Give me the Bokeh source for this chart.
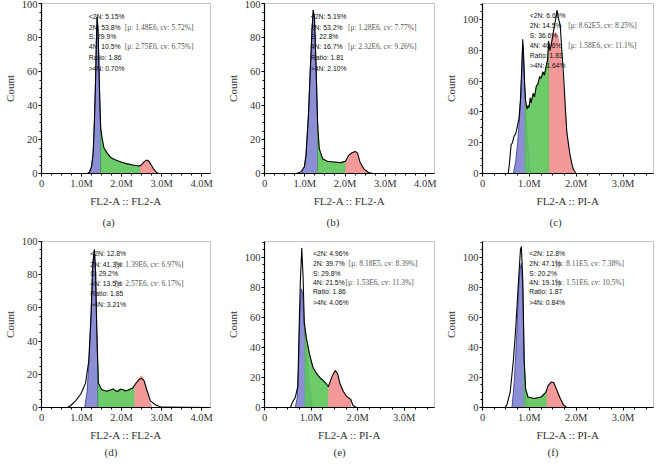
import numpy as np
from bokeh.plotting import figure
from bokeh.layouts import row, column
from bokeh.models import Range1d, FixedTicker, Title, ColumnDataSource, CustomJSTickFormatter
from bokeh.core.properties import value
from bokeh.embed import file_html
from bokeh.resources import INLINE

# ---------------- data (x in millions, y = count) ----------------
A_X = [0.0, 1.15, 1.20, 1.25, 1.29, 1.32, 1.35, 1.37, 1.39, 1.41, 1.43, 1.45, 1.47, 1.48, 1.52, 1.56, 1.64,
       1.72, 1.82, 1.92, 2.02, 2.12, 2.28, 2.44, 2.50, 2.56, 2.62, 2.68, 2.74, 2.80, 2.86, 2.92, 4.22]
A_Y = [0, 0, 1, 4, 12, 30, 55, 78, 92, 85, 68, 48, 32, 26, 20, 15, 12,
       9.6, 8.2, 7.3, 6.5, 5.8, 5.0, 4.4, 5.2, 6.8, 7.9, 7.3, 5.0, 2.6, 0.9, 0, 0]
A_G1 = (1.19, 1.48)
A_S = (1.48, 2.46)
A_G2 = (2.46, 2.90)

B_X = [0.0, 0.79, 0.91, 0.99, 1.03, 1.09, 1.14, 1.18, 1.21, 1.24, 1.28, 1.32, 1.36, 1.44, 1.56, 1.72,
       1.89, 2.01, 2.09, 2.17, 2.25, 2.31, 2.37, 2.46, 2.58, 2.70, 4.22]
B_Y = [0, 0, 1, 4, 10.7, 34, 63, 84.5, 96, 92, 63, 28, 14.6, 8.7, 7.2, 6.8,
       6.4, 7.2, 10.7, 12.2, 13, 12, 6.8, 2.9, 0.6, 0, 0]
B_G1 = (0.93, 1.32)
B_S = (1.32, 2.01)
B_G2 = (2.01, 2.62)

C_X = [0.0, 0.55, 0.57, 0.61, 0.64, 0.67, 0.71, 0.75, 0.78, 0.81, 0.83, 0.85, 0.86, 0.88, 0.90, 0.92, 0.95,
       0.97, 0.99, 1.02, 1.04, 1.08, 1.11, 1.15, 1.18, 1.22, 1.25, 1.29, 1.32, 1.36, 1.39, 1.41, 1.44, 1.47,
       1.50, 1.53, 1.56, 1.59, 1.62, 1.66, 1.69, 1.73, 1.77, 1.80, 1.84, 1.87, 1.91, 1.94, 2.00, 3.65]
C_Y = [0, 0, 5, 18.6, 20, 24, 26, 31.5, 36, 48, 62, 80, 87, 75, 58, 47, 42,
       44, 43, 49, 46, 52, 50, 57, 58, 63, 62, 66, 64, 70, 74, 86, 80, 84,
       90, 95, 100, 106, 101, 96, 81, 64, 42, 27, 18, 12, 6, 2.6, 0, 0]
C_G1_X = [0.66, 0.71, 0.75, 0.78, 0.81, 0.83, 0.85, 0.86, 0.88, 0.90, 0.93, 0.96, 1.00, 1.03]
C_G1_Y = [0, 8, 20, 32, 46, 60, 76, 83, 72, 56, 38, 20, 6, 0]
C_S = (0.91, 1.42)
C_G2_X = [1.42, 1.42, 1.48, 1.55, 1.62, 1.68, 1.74, 1.80, 1.86, 1.92, 1.97]
C_G2_Y = [0, 80, 88, 92, 90, 78, 55, 30, 13, 4, 0]

D_X = [0.0, 0.65, 0.73, 0.85, 0.98, 1.10, 1.18, 1.24, 1.28, 1.32, 1.35, 1.38, 1.42, 1.50, 1.63, 1.72, 1.79,
       1.85, 1.91, 1.97, 2.03, 2.09, 2.15, 2.28, 2.36, 2.44, 2.50, 2.56, 2.64, 2.72, 2.85, 3.00, 4.22]
D_Y = [0, 0, 1.2, 4, 8, 14.7, 28, 57, 86, 95, 82, 47.5, 14.7, 10.8, 9.8, 10.5, 11.2,
       10, 9.8, 11, 10.8, 10, 10.4, 11.8, 14.7, 17, 17.6, 16.2, 9.8, 4, 1.5, 0.2, 0]
D_G1_X = [1.08, 1.14, 1.19, 1.24, 1.28, 1.32, 1.35, 1.38, 1.41, 1.41]
D_G1_Y = [0, 10, 30, 57, 86, 95, 82, 47.5, 20, 0]
D_S = (1.41, 2.32)
D_G2_X = [2.32, 2.32, 2.38, 2.44, 2.50, 2.56, 2.62, 2.68, 2.74, 2.78]
D_G2_Y = [0, 13, 15.5, 18, 19.5, 17, 12, 6, 2, 0]

E_X = [0.0, 0.555, 0.60, 0.66, 0.715, 0.743, 0.77, 0.80, 0.827, 0.855, 0.90, 0.97, 1.04, 1.10, 1.15,
       1.20, 1.25, 1.32, 1.37, 1.41, 1.46, 1.52, 1.57, 1.62, 1.69, 1.76, 1.85, 1.90, 1.98, 3.65]
E_Y = [0, 0, 3.4, 6.6, 14, 52, 84, 106, 88, 56.5, 46, 35, 26.8, 23.5, 21.4,
       19.5, 18.3, 16, 14, 17.2, 21.4, 24.6, 22.5, 16, 10.8, 7.6, 5.5, 1.3, 0, 0]
E_G1_X = [0.66, 0.70, 0.73, 0.76, 0.79, 0.82, 0.85, 0.89, 0.94, 0.99, 1.03]
E_G1_Y = [0, 6, 25, 62, 79, 76, 56, 40, 22, 8, 0]
E_S = (0.87, 1.37)
E_G2 = (1.37, 1.86)

F_X = [0.0, 0.48, 0.52, 0.59, 0.66, 0.71, 0.77, 0.81, 0.83, 0.86, 0.89, 0.92, 0.97, 1.04, 1.11, 1.18,
       1.25, 1.30, 1.35, 1.40, 1.47, 1.52, 1.59, 1.66, 1.73, 1.80, 3.65]
F_Y = [0, 0, 1.7, 10, 31.5, 53, 85, 105, 107, 85, 31.5, 12.3, 7, 6.5, 6, 6.5,
       7, 8.5, 10, 14.5, 17, 16.6, 11.3, 6, 1.7, 0, 0]
F_G1_X = [0.63, 0.68, 0.73, 0.77, 0.80, 0.83, 0.86, 0.89, 0.92, 0.96]
F_G1_Y = [0, 18, 48, 78, 92, 96, 78, 30, 10, 0]
F_S = (0.89, 1.37)
F_G2 = (1.37, 1.75)

STATS_A = ["<2N: 5.15%", "2N: 53.8%", "S: 29.9%", "4N: 10.5%", "Ratio: 1.86", ">4N: 0.70%"]
FITS_A = ["[\u03bc: 1.48E6, cv: 5.72%]", "[\u03bc: 2.75E6, cv: 6.75%]"]
STATS_B = ["<2N: 5.19%", "2N: 53.2%", "S: 22.8%", "4N: 16.7%", "Ratio: 1.81", ">4N: 2.10%"]
FITS_B = ["[\u03bc: 1.28E6, cv: 7.77%]", "[\u03bc: 2.32E6, cv: 9.26%]"]
STATS_C = ["<2N: 6.66%", "2N: 14.5%", "S: 36.6%", "4N: 40.6%", "Ratio: 1.83", ">4N: 1.64%"]
FITS_C = ["[\u03bc: 8.62E5, cv: 8.25%]", "[\u03bc: 1.58E6, cv: 11.1%]"]
STATS_D = ["<2N: 12.8%", "2N: 41.3%", "S: 29.2%", "4N: 13.5%", "Ratio: 1.85", ">4N: 3.21%"]
FITS_D = ["[\u03bc: 1.39E6, cv: 6.97%]", "[\u03bc: 2.57E6, cv: 6.17%]"]
STATS_E = ["<2N: 4.96%", "2N: 39.7%", "S: 29.8%", "4N: 21.5%", "Ratio: 1.86", ">4N: 4.06%"]
FITS_E = ["[\u03bc: 8.18E5, cv: 8.39%]", "[\u03bc: 1.53E6, cv: 11.3%]"]
STATS_F = ["<2N: 12.8%", "2N: 47.1%", "S: 20.2%", "4N: 19.1%", "Ratio: 1.87", ">4N: 0.84%"]
FITS_F = ["[\u03bc: 8.11E5, cv: 7.38%]", "[\u03bc: 1.51E6, cv: 10.5%]"]

X_TICKS_4 = [0, 1, 2, 3, 4]
X_TICKS_3 = [0, 1, 2, 3]
X_TICK_LABELS = ["0", "1.0M", "2.0M", "3.0M", "4.0M"]
Y_TICKS = [0, 20, 40, 60, 80, 100]
CAPTIONS = ["(a)", "(b)", "(c)", "(d)", "(e)", "(f)"]
XLAB_FL2 = "FL2-A :: FL2-A"
XLAB_PI = "FL2-A :: PI-A"
YLAB = "Count"

# ---------------- style ----------------
BLUE = "#8d8fd4"
BLUE_EDGE = "#2e318f"
GREEN = "#5dc55a"
RED = "#f39494"
SERIF = "Liberation Serif"
SANS = "Liberation Sans"
LEVELS_100 = [92.5, 86, 80.5, 74.5, 68.5, 62]
LEVELS_110 = [102.5, 96, 89.5, 83, 77, 70]


def clip(xs, ys, lo, hi):
    xs = np.asarray(xs, float)
    ys = np.asarray(ys, float)
    inner = (xs > lo) & (xs < hi)
    px = np.concatenate([[lo, lo], xs[inner], [hi, hi]])
    py = np.concatenate([[0, np.interp(lo, xs, ys)], ys[inner], [np.interp(hi, xs, ys), 0]])
    return px, py


def make_panel(ox, oy, g1, s_gate, g2, xmax, ymax, xticks, stats, fits, stat_x, fit_x,
               levels, xlabel, caption, cap_off, size, borders, cap_standoff):
    left, right, top, bottom = borders
    p = figure(width=size[0], height=size[1], output_backend="svg", toolbar_location=None,
               x_range=Range1d(0, xmax), y_range=Range1d(0, ymax),
               min_border_left=left, min_border_right=right,
               min_border_top=top, min_border_bottom=bottom)
    p.grid.visible = False
    p.outline_line_color = "#c4c4c4"
    p.background_fill_color = "white"
    p.border_fill_color = "white"

    # fills
    if isinstance(g1[0], (list, tuple)):
        bx, by = g1
    else:
        bx, by = clip(ox, oy, g1[0], g1[1])
    sx, sy = clip(ox, oy, s_gate[0], s_gate[1])
    if isinstance(g2[0], (list, tuple)):
        rx, ry = g2
    else:
        rx, ry = clip(ox, oy, g2[0], g2[1])
    p.patch(list(bx), list(by), fill_color=BLUE, line_color=BLUE_EDGE, line_width=0.8)
    p.patch(list(sx), list(sy), fill_color=GREEN, fill_alpha=0.9, line_color="#4cb849", line_width=0.6)
    p.patch(list(rx), list(ry), fill_color=RED, fill_alpha=0.95, line_color=None)
    p.line(ox, oy, line_color="black", line_width=1.1, line_join="round")

    # statistics text
    src = ColumnDataSource(dict(x=[stat_x] * len(stats), y=levels, t=stats))
    p.text(x="x", y="y", text="t", source=src, text_font=value(SANS), text_font_size="6.8px",
           text_color="#111111", text_baseline="middle", text_align="left")
    src2 = ColumnDataSource(dict(x=fit_x, y=[levels[1], levels[3]], t=fits))
    p.text(x="x", y="y", text="t", source=src2, text_font=value(SERIF), text_font_size="7.5px",
           text_color="#555555", text_baseline="middle", text_align="left")

    # axes
    p.xaxis.ticker = FixedTicker(ticks=xticks, minor_ticks=[t / 4 for t in range(0, 4 * int(xmax) + 4)])
    p.xaxis.formatter = CustomJSTickFormatter(args=dict(tvals=X_TICKS_4, tlabels=X_TICK_LABELS),
                                              code="const i = tvals.indexOf(tick); return i >= 0 ? tlabels[i] : '';")
    p.yaxis.ticker = FixedTicker(ticks=Y_TICKS, minor_ticks=list(range(0, 111, 5)))
    for ax in (p.xaxis[0], p.yaxis[0]):
        ax.axis_line_color = "black"
        ax.axis_line_width = 1.2
        ax.major_tick_line_color = "black"
        ax.minor_tick_line_color = "black"
        ax.major_tick_in = 0
        ax.major_tick_out = 3
        ax.minor_tick_in = 0
        ax.minor_tick_out = 2
        ax.major_label_text_font = SERIF
        ax.major_label_text_font_size = "10.5px"
        ax.major_label_text_color = "#333333"
        ax.major_label_standoff = 1
        ax.axis_label_text_font = SERIF
        ax.axis_label_text_font_size = "11px"
        ax.axis_label_text_font_style = "normal"
        ax.axis_label_text_color = "#333333"
        ax.axis_label_standoff = 3
    p.xaxis.axis_label = xlabel
    p.yaxis.axis_label = YLAB

    p.add_layout(Title(text=caption, align="left", offset=cap_off, text_font=SERIF,
                       text_font_size="11px", text_font_style="normal", text_color="#333333",
                       standoff=cap_standoff), "below")
    return p


TOP = (218, 231)
BOT = (218, 227)

pa = make_panel(A_X, A_Y, A_G1, A_S, A_G2, 4.22, 100, X_TICKS_4, STATS_A, FITS_A, 1.18, [2.08, 2.08],
                LEVELS_100, XLAB_FL2, CAPTIONS[0], 61, TOP, (38, 8, 3, 56), 8)
pb = make_panel(B_X, B_Y, B_G1, B_S, B_G2, 4.22, 100, X_TICKS_4, STATS_B, FITS_B, 1.15, [2.07, 2.07],
                LEVELS_100, XLAB_FL2, CAPTIONS[1], 62, TOP, (46, 2, 3, 56), 8)
pc = make_panel(C_X, C_Y, (C_G1_X, C_G1_Y), C_S, (C_G2_X, C_G2_Y), 3.65, 110.5, X_TICKS_3, STATS_C, FITS_C,
                1.01, [1.83, 1.83], LEVELS_110, XLAB_PI, CAPTIONS[2], 67, TOP, (46, 1, 3, 56), 8)
pd_ = make_panel(D_X, D_Y, (D_G1_X, D_G1_Y), D_S, (D_G2_X, D_G2_Y), 4.22, 100, X_TICKS_4, STATS_D, FITS_D,
                 1.22, [1.83, 1.83], LEVELS_100, XLAB_FL2, CAPTIONS[3], 63, BOT, (38, 8, 10, 49), 1)
pe = make_panel(E_X, E_Y, (E_G1_X, E_G1_Y), E_S, E_G2, 3.65, 110.5, X_TICKS_3, STATS_E, FITS_E,
                1.04, [1.81, 1.74], LEVELS_110, XLAB_PI, CAPTIONS[4], 69, BOT, (46, 2, 10, 49), 1)
pf = make_panel(F_X, F_Y, (F_G1_X, F_G1_Y), F_S, F_G2, 3.65, 110.5, X_TICKS_3, STATS_F, FITS_F,
                1.0, [1.56, 1.56], LEVELS_110, XLAB_PI, CAPTIONS[5], 65, BOT, (46, 1, 10, 49), 1)

layout = column(row(pa, pb, pc), row(pd_, pe, pf))

with open("out.html", "w") as fh:
    fh.write(file_html(layout, INLINE))
